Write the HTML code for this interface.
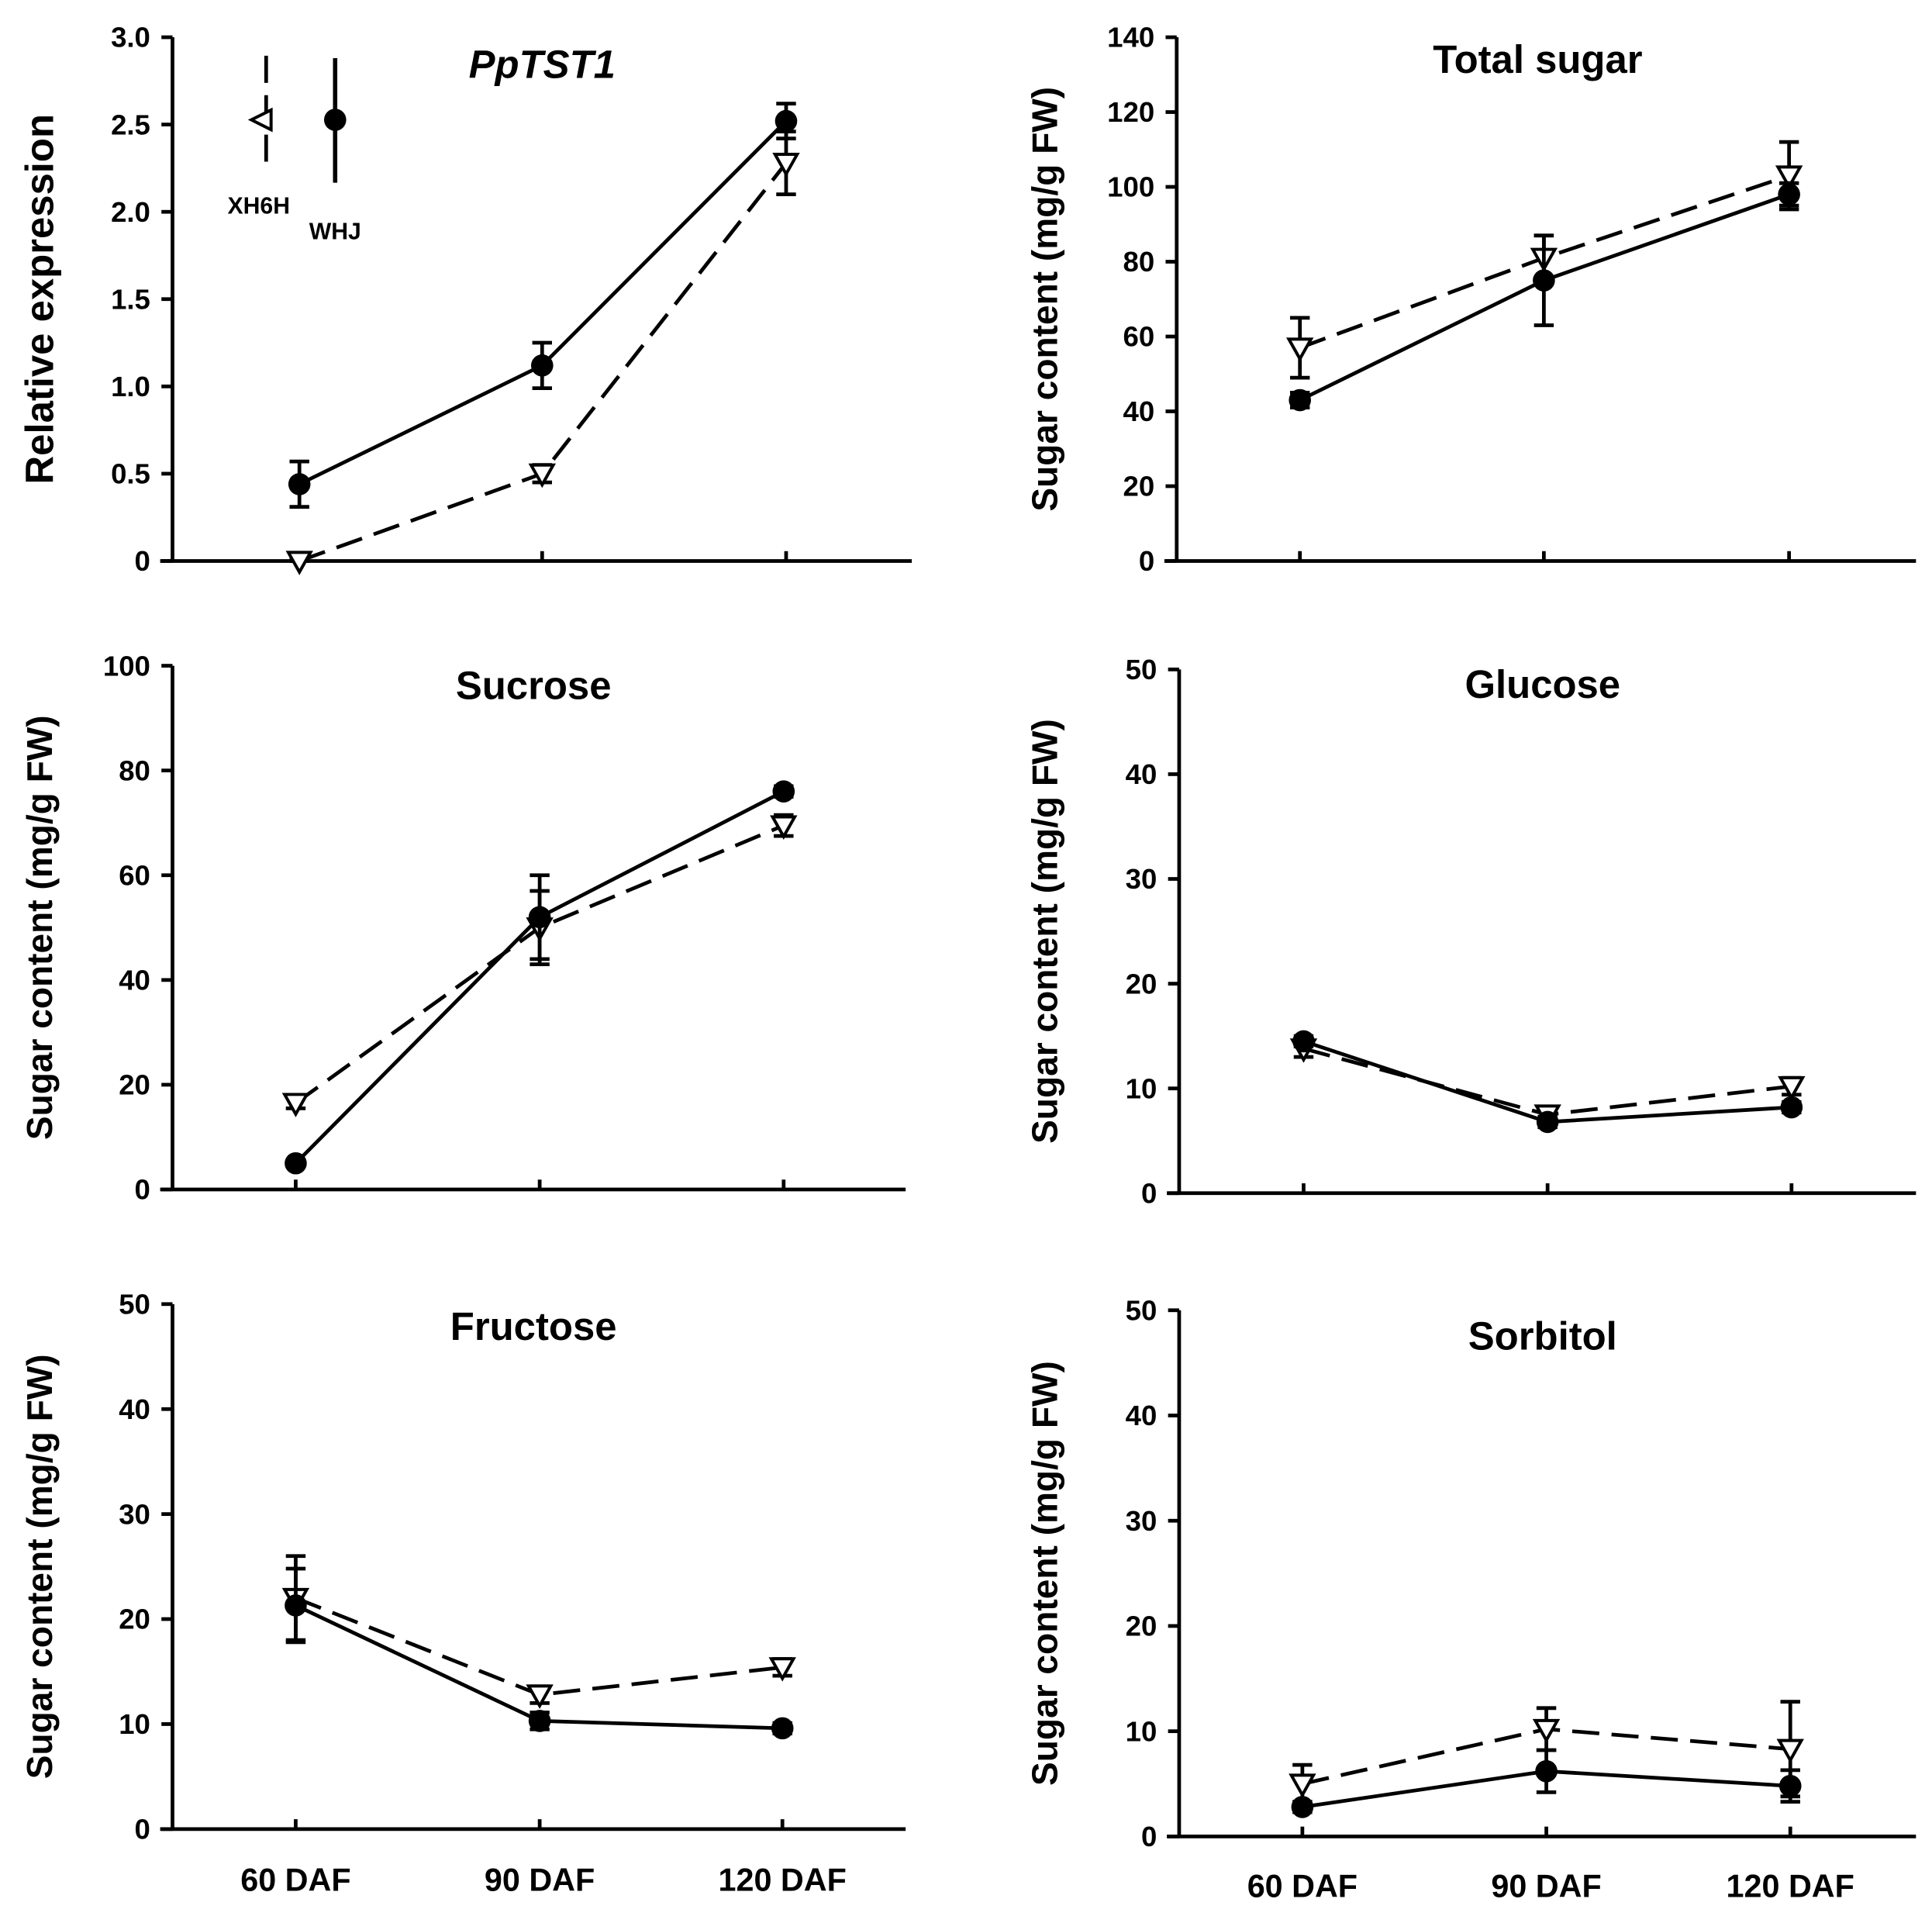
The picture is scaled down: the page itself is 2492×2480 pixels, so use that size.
<!DOCTYPE html>
<html><head><meta charset="utf-8"><style>
html,body{margin:0;padding:0;background:#fff}
svg{display:block}
text{font-family:"Liberation Sans",sans-serif;font-weight:bold;fill:#000}
</style></head><body>
<svg id="c" width="2492" height="2480" viewBox="0 0 1568 1560" xmlns="http://www.w3.org/2000/svg"></svg>
<script>
const categories = ["60 DAF","90 DAF","120 DAF"];
const p1WHJ=[0.44,1.12,2.52], p1WHJe=[0.13,0.13,0.1];
const p1XH=[0.0,0.5,2.28], p1XHe=[0.02,0.05,0.18];
const p2WHJ=[43,75,98], p2WHJe=[2,12,3];
const p2XH=[57,81,103], p2XHe=[8,6,9];
const p3WHJ=[5,52,76], p3WHJe=[0.5,8,1];
const p3XH=[16.5,50,69.5], p3XHe=[1,7,2];
const p4WHJ=[14.5,6.8,8.2], p4WHJe=[0.5,0.5,0.5];
const p4XH=[13.8,7.5,10.2], p4XHe=[0.8,0.5,0.8];
const p5WHJ=[21.3,10.3,9.6], p5WHJe=[3.5,0.8,0.5];
const p5XH=[22,12.8,15.4], p5XHe=[4,0.8,0.8];
const p6WHJ=[2.8,6.2,4.8], p6WHJe=[0.5,2,1.5];
const p6XH=[5,10.2,8.3], p6XHe=[1.8,2,4.5];
const ticks1=["0","0.5","1.0","1.5","2.0","2.5","3.0"];
const ticks2=["0","20","40","60","80","100","120","140"];
const ticks3=["0","20","40","60","80","100"];
const ticks50=["0","10","20","30","40","50"];

const svg=document.getElementById('c');
const NS='http://www.w3.org/2000/svg';
function mk(tag,attrs,parent){const e=document.createElementNS(NS,tag);for(const k in attrs)e.setAttribute(k,attrs[k]);(parent||svg).appendChild(e);return e;}

const panels=[
 {name:'pptst1',ax:140,top:30,bot:455,right:740,cx:[243,440,638],max:3,ticks:ticks1,title:'PpTST1',italic:true,tx:440,ty:63,ylab:'Relative expression',ylx:43,yls:32,w:p1WHJ,we:p1WHJe,x:p1XH,xe:p1XHe},
 {name:'total-sugar',ax:955,top:30,bot:455,right:1555,cx:[1055,1253,1452],max:140,ticks:ticks2,title:'Total sugar',tx:1248,ty:59,ylab:'Sugar content (mg/g FW)',ylx:858,w:p2WHJ,we:p2WHJe,x:p2XH,xe:p2XHe},
 {name:'sucrose',ax:140,top:540,bot:965,right:735,cx:[240,438,636],max:100,ticks:ticks3,title:'Sucrose',tx:433,ty:567,ylab:'Sugar content (mg/g FW)',ylx:42,w:p3WHJ,we:p3WHJe,x:p3XH,xe:p3XHe},
 {name:'glucose',ax:957,top:543,bot:968,right:1555,cx:[1058,1256,1454],max:50,ticks:ticks50,title:'Glucose',tx:1252,ty:566,ylab:'Sugar content (mg/g FW)',ylx:858,w:p4WHJ,we:p4WHJe,x:p4XH,xe:p4XHe},
 {name:'fructose',ax:140,top:1058,bot:1484,right:735,cx:[240,438,635],max:50,ticks:ticks50,title:'Fructose',tx:433,ty:1087,ylab:'Sugar content (mg/g FW)',ylx:42,w:p5WHJ,we:p5WHJe,x:p5XH,xe:p5XHe,xl:1534},
 {name:'sorbitol',ax:957,top:1063,bot:1490,right:1555,cx:[1057,1255,1453],max:50,ticks:ticks50,title:'Sorbitol',tx:1252,ty:1095,ylab:'Sugar content (mg/g FW)',ylx:858,w:p6WHJ,we:p6WHJe,x:p6XH,xe:p6XHe,xl:1539}
];

panels.forEach(p=>{
 const g=mk('g',{});
 
 
 const y=v=>p.bot-(v/p.max)*(p.bot-p.top);
 const ya=mk('line',{x1:p.ax,y1:p.top,x2:p.ax,y2:p.bot,stroke:'#000','stroke-width':3},g);
 
 
 const xa=mk('line',{x1:p.ax-10,y1:p.bot,x2:p.right,y2:p.bot,stroke:'#000','stroke-width':3},g);
 
 
 p.ticks.forEach(t=>{
  const v=parseFloat(t), yy=y(v);
  mk('line',{x1:p.ax-9,y1:yy,x2:p.ax,y2:yy,stroke:'#000','stroke-width':3},g);
  const tl=mk('text',{x:p.ax-18,y:yy+8,'text-anchor':'end','font-size':23},g);
  
  
  tl.textContent=t;
 });
 p.cx.forEach((cx,i)=>{
  mk('line',{x1:cx,y1:p.bot,x2:cx,y2:p.bot-8,stroke:'#000','stroke-width':3},g);
  if(p.xl){
   const xl=mk('text',{x:cx,y:p.xl,'text-anchor':'middle','font-size':26},g);
   
   
   xl.textContent=categories[i];
  }
 });
 const tt=mk('text',{x:p.tx,y:p.ty,'text-anchor':'middle','font-size':32,'font-style':p.italic?'italic':'normal'},g);
 
 
 tt.textContent=p.title;
 const yl=mk('text',{x:0,y:0,'text-anchor':'middle','font-size':p.yls||29,transform:`translate(${p.ylx},${(p.top+p.bot)/2}) rotate(-90)`},g);
 
 
 yl.textContent=p.ylab;
 const ptsX=p.x.map((v,i)=>p.cx[i]+','+y(v)).join(' ');
 const lx=mk('polyline',{points:ptsX,fill:'none',stroke:'#000','stroke-width':3,'stroke-dasharray':'22,10'},g);
 
 
 const ptsW=p.w.map((v,i)=>p.cx[i]+','+y(v)).join(' ');
 const lw=mk('polyline',{points:ptsW,fill:'none',stroke:'#000','stroke-width':3},g);
 
 
 function err(cx,v,e){
  const y1=y(v+e),y2=y(Math.max(0,v-e));
  mk('line',{x1:cx,y1:y1,x2:cx,y2:y2,stroke:'#000','stroke-width':3},g);
  mk('line',{x1:cx-8,y1:y1,x2:cx+8,y2:y1,stroke:'#000','stroke-width':3},g);
  mk('line',{x1:cx-8,y1:y2,x2:cx+8,y2:y2,stroke:'#000','stroke-width':3},g);
 }
 p.x.forEach((v,i)=>{
  err(p.cx[i],v,p.xe[i]);
  const cx=p.cx[i],cy=y(v);
  const m=mk('polygon',{points:`${cx-9},${cy-7} ${cx+9},${cy-7} ${cx},${cy+9}`,fill:'#fff',stroke:'#000','stroke-width':2.5},g);
  
  
 });
 p.w.forEach((v,i)=>{
  err(p.cx[i],v,p.we[i]);
  const m=mk('circle',{cx:p.cx[i],cy:y(v),r:9,fill:'#000'},g);
  
  
 });
});
const lg=mk('g',{});


mk('line',{x1:216,y1:45,x2:216,y2:137,stroke:'#000','stroke-width':3,'stroke-dasharray':'22,10'},lg);
mk('polygon',{points:'204,97 220,89 220,105',fill:'#fff',stroke:'#000','stroke-width':2.5},lg);
mk('line',{x1:272,y1:47,x2:272,y2:148,stroke:'#000','stroke-width':3.5},lg);
mk('circle',{cx:272,cy:97,r:9,fill:'#000'},lg);
const t1=mk('text',{x:210,y:173,'text-anchor':'middle','font-size':19},lg);


t1.textContent='XH6H';
const t2=mk('text',{x:272,y:194,'text-anchor':'middle','font-size':19},lg);


t2.textContent='WHJ';
</script>
</body></html>
